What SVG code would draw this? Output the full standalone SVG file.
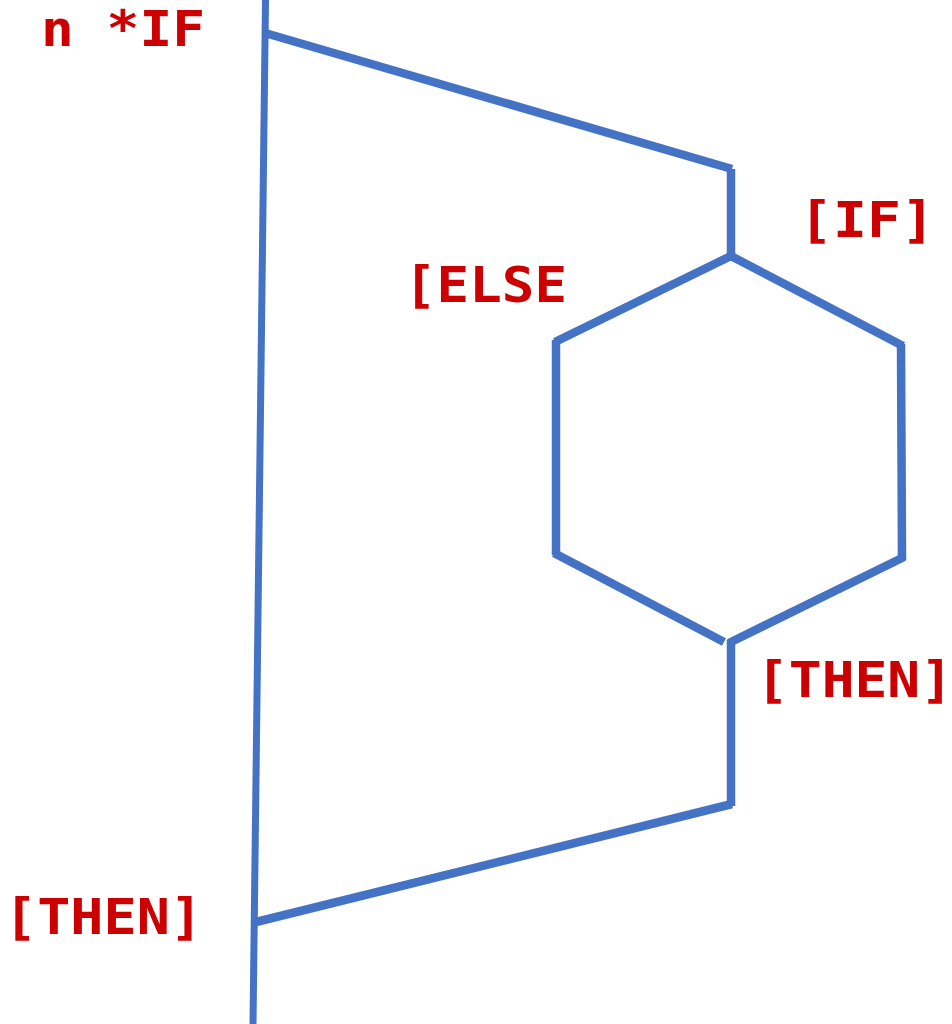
<svg xmlns="http://www.w3.org/2000/svg" width="952" height="1024" viewBox="0 0 952 1024">
  <style>
    .wire { stroke: #4472C4; stroke-width: 8.5; fill: none; stroke-linecap: butt; }
    .label { fill: #CC0000; font-family: "DejaVu Sans Mono", "Liberation Mono", monospace; font-weight: bold; font-size: 50px; }
  </style>
  <rect width="952" height="1024" fill="#FFFFFF"/>
  <g id="connectors">
    <!-- main trunk -->
    <line class="wire" x1="265.5" y1="0" x2="253" y2="1024" style="stroke-width:7"/>
    <!-- branch out to the inner IF -->
    <line class="wire" x1="265" y1="33" x2="732" y2="169"/>
    <line class="wire" x1="731" y1="169" x2="731" y2="257"/>
    <!-- IF / ELSE diamond -->
    <line class="wire" x1="733" y1="255" x2="555" y2="342"/>
    <line class="wire" x1="556" y1="340" x2="556" y2="555"/>
    <line class="wire" x1="554" y1="553" x2="724" y2="642"/>
    <line class="wire" x1="729" y1="255" x2="903" y2="346"/>
    <line class="wire" x1="901" y1="344" x2="902" y2="560"/>
    <line class="wire" x1="904" y1="557" x2="729" y2="643"/>
    <!-- join back -->
    <line class="wire" x1="731" y1="640" x2="731" y2="806"/>
    <line class="wire" x1="732" y1="804" x2="256" y2="922"/>
  </g>
  <g id="label-n-if"><text class="label" x="41" y="46" textLength="164" lengthAdjust="spacingAndGlyphs">n *IF</text></g>
  <g id="label-if"><text class="label" x="799" y="237" textLength="136" lengthAdjust="spacingAndGlyphs">[IF]</text></g>
  <g id="label-else"><text class="label" x="404" y="302" textLength="163" lengthAdjust="spacingAndGlyphs">[ELSE</text></g>
  <g id="label-then-inner"><text class="label" x="756" y="697" textLength="197" lengthAdjust="spacingAndGlyphs">[THEN]</text></g>
  <g id="label-then-outer"><text class="label" x="4" y="934" textLength="199" lengthAdjust="spacingAndGlyphs">[THEN]</text></g>
</svg>
